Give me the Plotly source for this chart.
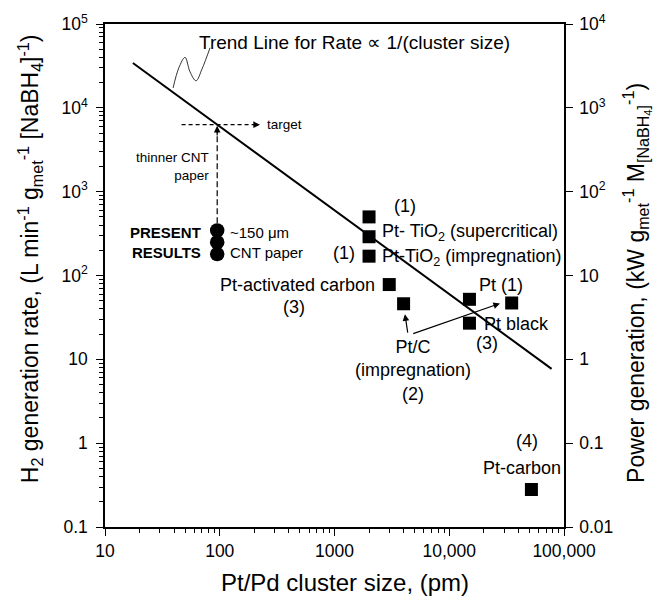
import numpy as np
import plotly.graph_objects as go

# ---- data -------------------------------------------------------------
# literature catalysts: cluster size (pm) and H2 generation rate
cluster_size = [2000, 2000, 2000, 3000, 4000, 15000, 15000, 35000, 52000]
h2_rate = [500, 290, 170, 78, 46, 52, 27, 47, 0.28]

# present results (CNT paper, ~150 um)
present_size = [95, 95, 95]
present_rate = [345, 250, 180]

# trend line, rate proportional to 1/(cluster size)
trend_x = [17.5, 78000]
trend_y = [34300, 7.7]

# target point on the trend line
target_x = 95
target_y = 6300

# tick labels
left_tickvals = [0.1, 1, 10, 100, 1e3, 1e4, 1e5]
left_ticktext = ["0.1", "1", "10", "10<sup>2</sup>", "10<sup>3</sup>", "10<sup>4</sup>", "10<sup>5</sup>"]
right_tickvals = [0.01, 0.1, 1, 10, 100, 1e3, 1e4]
right_ticktext = ["0.01", "0.1", "1", "10", "10<sup>2</sup>", "10<sup>3</sup>", "10<sup>4</sup>"]
x_tickvals = [10, 100, 1000, 10000, 100000]
x_ticktext = ["10", "100", "1000", "10,000", "100,000"]

FONT = "Liberation Sans, Arial, sans-serif"
L10 = np.log10


def minor_vals(lo, hi):
    return [k * 10.0 ** e for e in range(lo, hi) for k in range(2, 10)]


fig = go.Figure()

# trend line
fig.add_trace(go.Scatter(x=trend_x, y=trend_y, mode="lines",
                         line=dict(color="black", width=2), hoverinfo="skip"))

# dashed guides toward the target
fig.add_trace(go.Scatter(x=[46.5, 215], y=[target_y, target_y], mode="lines",
                         line=dict(color="black", width=1.2, dash="4px,3px"), hoverinfo="skip"))
fig.add_trace(go.Scatter(x=[target_x, target_x], y=[420, 5200], mode="lines",
                         line=dict(color="black", width=1.2, dash="6px,3px"), hoverinfo="skip"))

# wavy leader for the trend-line label
fig.add_trace(go.Scatter(x=[39.2, 44, 49.8, 55, 62.1, 70, 82.3],
                         y=[17260, 30000, 40000, 27000, 21000, 29000, 52000],
                         mode="lines", line=dict(color="black", width=0.8, shape="spline", smoothing=1.0),
                         hoverinfo="skip"))

# literature data
fig.add_trace(go.Scatter(x=cluster_size, y=h2_rate, mode="markers",
                         marker=dict(symbol="square", size=13, color="black")))

# present results
fig.add_trace(go.Scatter(x=present_size, y=present_rate, mode="markers",
                         marker=dict(symbol="circle", size=14.5, color="black")))

# power-generation scale (same data on the right axis)
fig.add_trace(go.Scatter(x=cluster_size, y=[v / 10 for v in h2_rate], mode="markers",
                         marker=dict(opacity=0), yaxis="y2", hoverinfo="skip"))

ann = []


def text(x, y, s, size=18, xanchor="center", yanchor="middle", align="center", bold=False):
    if bold:
        s = "<b>" + s.replace("<br>", "</b><br><b>") + "</b>"
    ann.append(dict(x=L10(x), y=L10(y), xref="x", yref="y", text=s, showarrow=False,
                    xanchor=xanchor, yanchor=yanchor, align=align,
                    font=dict(family=FONT, size=size, color="black")))


text(63, 60500, "Trend Line for Rate \u221d 1/(cluster size)", size=19, xanchor="left")
text(248, 6300, "target", size=13.5, xanchor="left")
text(84, 1980, "thinner CNT<br>paper", size=13.5, xanchor="right", align="right")
text(72, 245, "PRESENT<br>RESULTS", size=15, xanchor="right", align="right", bold=True)
text(118, 245, "~150 \u03bcm<br>CNT paper", size=15, xanchor="left", align="left")
text(4110, 680, "(1)")
text(2500, 330, "Pt- TiO<sub>2</sub> (supercritical)", xanchor="left")
text(1211, 185, "(1)")
text(2500, 165, "Pt-TiO<sub>2</sub> (impregnation)", xanchor="left")
text(2344, 78, "Pt-activated carbon", xanchor="right")
text(444, 42.5, "(3)")
text(4830, 7.26, "Pt/C<br>(impregnation)<br>(2)")
text(17340, 77.3, "Pt (1)", xanchor="left")
text(19190, 26.2, "Pt black", xanchor="left")
text(21300, 15.7, "(3)")
text(47300, 1.055, "(4)")
text(42760, 0.51, "Pt-carbon")


# arrowheads and arrows
def arrow(x_head, y_head, x_tail, y_tail, width=1.2):
    ann.append(dict(x=L10(x_head), y=L10(y_head), ax=L10(x_tail), ay=L10(y_tail),
                    xref="x", yref="y", axref="x", ayref="y", text="", showarrow=True,
                    arrowhead=2, arrowsize=1.1, arrowwidth=width, arrowcolor="black"))


arrow(224, target_y, 200, target_y)           # to "target"
arrow(target_x, 6100, target_x, 4500)         # up to the trend line
arrow(4110, 34.5, 4365, 20)                   # Pt/C pointer
arrow(27670, 46.5, 4710, 20)                  # Pt (1) pointer

# axis titles
title_font = dict(family=FONT, size=23, color="black")
ann.append(dict(x=(30 - 105) / 459, y=(526.7 - 256) / 508.4, xref="paper", yref="paper",
                xanchor="center", yanchor="middle",
                text="H<sub>2</sub> generation rate, (L min<sup>-1</sup> g<sub>met</sub><sup>-1</sup> [NaBH<sub>4</sub>]<sup>-1</sup>)",
                textangle=-90, showarrow=False, font=title_font))
ann.append(dict(x=(637 - 105) / 459, y=(526.7 - 280) / 508.4, xref="paper", yref="paper",
                xanchor="center", yanchor="middle",
                text="Power generation, (kW g<sub>met</sub><sup>-1</sup> M<sub>[NaBH<sub>4</sub>]</sub><sup>-1</sup>)",
                textangle=-90, showarrow=False, font=title_font))
ann.append(dict(x=(345 - 105) / 459, y=(526.7 - 583) / 508.4, xref="paper", yref="paper",
                xanchor="center", yanchor="middle",
                text="Pt/Pd cluster size, (pm)", showarrow=False,
                font=dict(family=FONT, size=24, color="black")))

axis_common = dict(showgrid=False, zeroline=False, showline=True, linecolor="black", linewidth=1.5,
                   ticks="outside", tickcolor="black", tickwidth=1.2, ticklen=7,
                   tickfont=dict(family=FONT, size=17.5, color="black"))

fig.update_layout(
    width=665, height=602,
    margin=dict(l=105, r=101, t=18, b=75),
    paper_bgcolor="white", plot_bgcolor="white",
    showlegend=False,
    annotations=ann,
    xaxis=dict(type="log", range=[1, 5], tickmode="array", tickvals=x_tickvals, ticktext=x_ticktext,
               mirror=True,
               minor=dict(tickmode="array", tickvals=minor_vals(1, 5), ticks="outside", ticklen=4,
                          tickwidth=1, tickcolor="black"),
               **axis_common),
    yaxis=dict(type="log", range=[-1, 5], tickmode="array", tickvals=left_tickvals, ticktext=left_ticktext,
               mirror=True, ticklabelstandoff=5,
               minor=dict(tickmode="array", tickvals=minor_vals(-1, 5), ticks="outside", ticklen=4,
                          tickwidth=1, tickcolor="black"),
               **axis_common),
    yaxis2=dict(type="log", range=[-2, 4], overlaying="y", side="right", tickmode="array",
                tickvals=right_tickvals, ticktext=right_ticktext, ticklabelstandoff=3,
                **axis_common),
)

fig.write_html("out.html")
